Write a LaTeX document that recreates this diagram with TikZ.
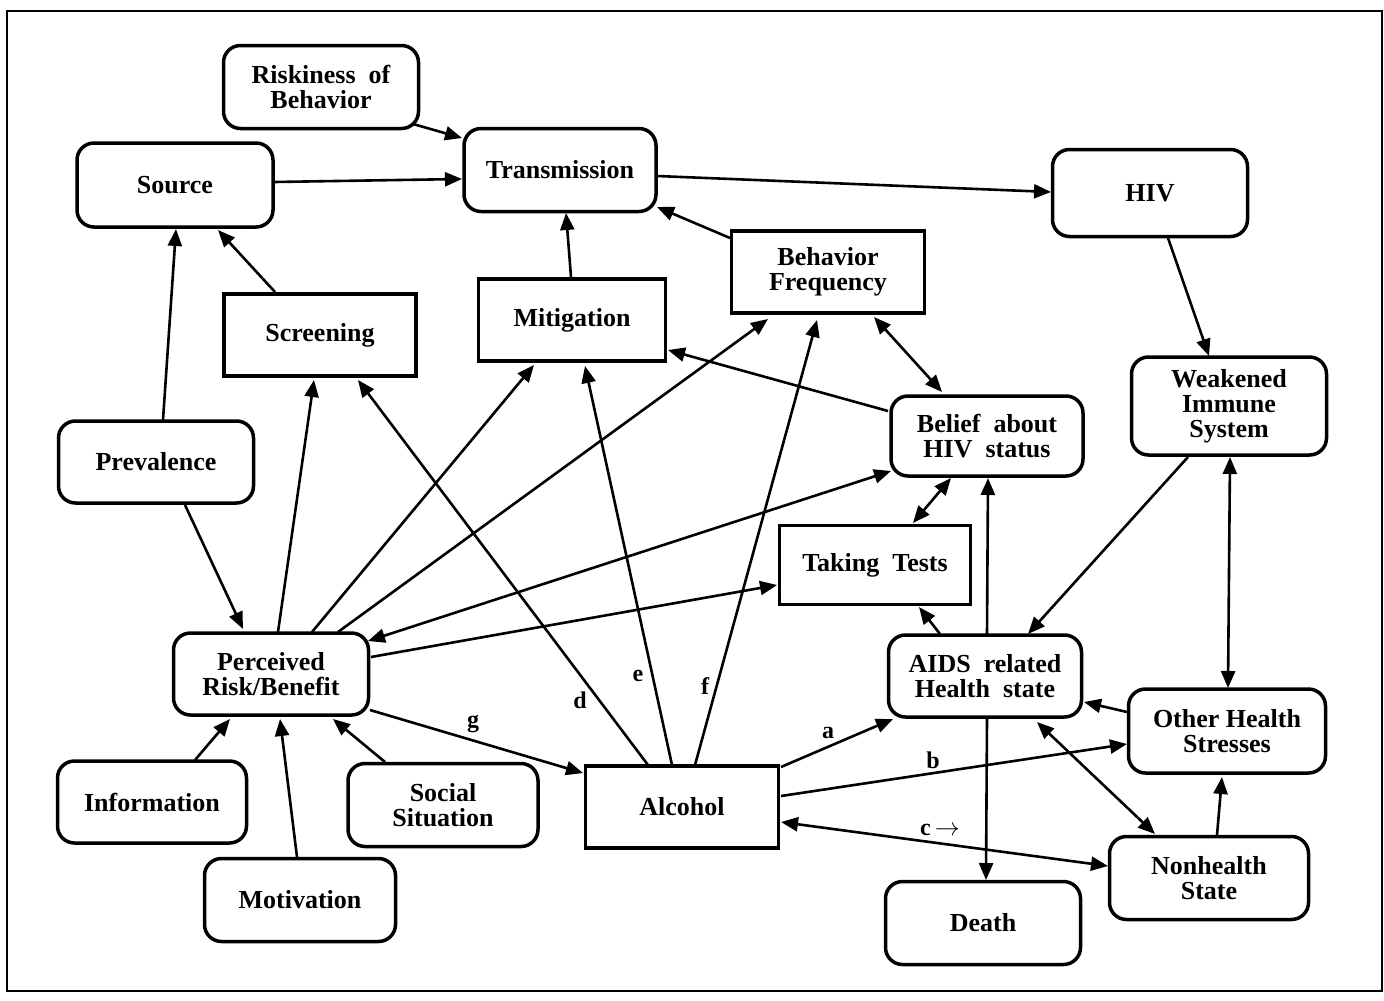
\documentclass[tikz,border=0pt]{standalone}
\usepackage{fontspec}
\setmainfont{Liberation Serif}
\usetikzlibrary{arrows.meta}
\begin{document}
\begin{tikzpicture}[x=1pt,y=-1pt,
  rbox/.style={draw, line width=3.5pt, rounded corners=17pt, align=center,
    font=\bfseries\fontsize{26}{25}\selectfont, inner sep=0pt},
  sbox/.style={draw, line width=3.5pt, align=center,
    font=\bfseries\fontsize{26}{25}\selectfont, inner sep=0pt},
  lbl/.style={font=\bfseries\fontsize{24}{24}\selectfont, inner sep=0pt},
  conn/.style={line width=2.6pt, -{Triangle[length=17pt,width=14pt]}},
  biconn/.style={line width=2.6pt, {Triangle[length=17pt,width=14pt]}-{Triangle[length=17pt,width=14pt]}}
]
\useasboundingbox (0,0) rectangle (1384,1001);
\draw[line width=2pt] (7,11) rectangle (1382,991);

% nodes
\node[rbox, minimum width=195pt, minimum height=83pt] (risk) at (321,87) {Riskiness\ \ of\\Behavior};
\node[rbox, minimum width=196pt, minimum height=84pt] (source) at (175,185) {Source};
\node[rbox, minimum width=192pt, minimum height=83pt] (trans) at (560,170) {Transmission};
\node[rbox, minimum width=195pt, minimum height=87pt] (hiv) at (1150,193) {HIV};
\node[sbox, minimum width=192pt, minimum height=82pt] (screen) at (320,335) {Screening};
\node[sbox, minimum width=187pt, minimum height=82pt] (mitig) at (572,320) {Mitigation};
\node[sbox, minimum width=193pt, minimum height=82pt] (bfreq) at (828,272) {Behavior\\Frequency};
\node[rbox, minimum width=195pt, minimum height=98pt] (weak) at (1229,406) {Weakened\\Immune\\System};
\node[rbox, minimum width=192pt, minimum height=80pt] (belief) at (987,436) {Belief\ \ about\\HIV\ \ status};
\node[rbox, minimum width=195pt, minimum height=82pt] (prev) at (156,462) {Prevalence};
\node[sbox, minimum width=191pt, minimum height=79pt] (tests) at (875,565) {Taking\ \ Tests};
\node[rbox, minimum width=195pt, minimum height=82pt] (perc) at (271,674) {Perceived\\Risk/Benefit};
\node[rbox, minimum width=193pt, minimum height=82pt] (aids) at (985,676) {AIDS\ \ related\\Health\ \ state};
\node[rbox, minimum width=197pt, minimum height=84pt] (other) at (1227,731) {Other Health\\Stresses};
\node[rbox, minimum width=189pt, minimum height=82pt] (info) at (152,802) {Information};
\node[rbox, minimum width=190pt, minimum height=83pt] (social) at (443,805) {Social\\Situation};
\node[sbox, minimum width=193pt, minimum height=82pt] (alcohol) at (682,807) {Alcohol};
\node[rbox, minimum width=191pt, minimum height=83pt] (motiv) at (300,900) {Motivation};
\node[rbox, minimum width=199pt, minimum height=83pt] (nonh) at (1209,878) {Nonhealth\\State};
\node[rbox, minimum width=195pt, minimum height=83pt] (death) at (983,923) {Death};

% connectors
\draw[conn] ([shift={(92,37)}]risk.center) -- ([shift={(-98,-32)}]trans.center);
\draw[conn] ([shift={(99,-3)}]source.center) -- ([shift={(-98,9)}]trans.center);
\draw[conn] ([shift={(97,6)}]trans.center) -- ([shift={(-99,-1)}]hiv.center);
\draw[conn] ([shift={(-98,-34)}]bfreq.center) -- ([shift={(97,37)}]trans.center);
\draw[conn] ([shift={(-1,-43)}]mitig.center) -- ([shift={(6,43)}]trans.center);
\draw[conn] ([shift={(-45,-43)}]screen.center) -- ([shift={(43,45)}]source.center);
\draw[conn] ([shift={(7,-42)}]prev.center) -- ([shift={(1,44)}]source.center);
\draw[conn] ([shift={(18,45)}]hiv.center) -- ([shift={(-20,-50)}]weak.center);
\draw[biconn] ([shift={(1,51)}]weak.center) -- ([shift={(1,-43)}]other.center);
\draw[conn] ([shift={(-41,51)}]weak.center) -- ([shift={(43,-42)}]aids.center);
\draw[biconn] ([shift={(46,45)}]bfreq.center) -- ([shift={(-45,-44)}]belief.center);
\draw[conn] ([shift={(-99,-25)}]belief.center) -- ([shift={(96,30)}]mitig.center);
\draw[biconn] ([shift={(-36,42)}]belief.center) -- ([shift={(38,-42)}]tests.center);
\draw[conn] ([shift={(2,-42)}]aids.center) -- ([shift={(1,42)}]belief.center);
\draw[conn] ([shift={(-45,-42)}]aids.center) -- ([shift={(44,42)}]tests.center);
\draw[conn] ([shift={(2,43)}]aids.center) -- ([shift={(3,-43)}]death.center);
\draw[conn] ([shift={(-100,-19)}]other.center) -- ([shift={(99,26)}]aids.center);
\draw[biconn] ([shift={(52,46)}]aids.center) -- ([shift={(-54,-44)}]nonh.center);
\draw[conn] ([shift={(8,-43)}]nonh.center) -- ([shift={(-5,46)}]other.center);
\draw[conn] ([shift={(99,-40)}]alcohol.center) -- ([shift={(-92,43)}]aids.center);
\draw[conn] ([shift={(99,-11)}]alcohol.center) -- ([shift={(-100,13)}]other.center);
\draw[biconn] ([shift={(99,15)}]alcohol.center) -- ([shift={(-101,-12)}]nonh.center);
\draw[conn] ([shift={(-34,-42)}]alcohol.center) -- ([shift={(38,45)}]screen.center);
\draw[conn] ([shift={(-10,-42)}]alcohol.center) -- ([shift={(13,46)}]mitig.center);
\draw[conn] ([shift={(13,-42)}]alcohol.center) -- ([shift={(-11,48)}]bfreq.center);
\draw[conn] ([shift={(99,36)}]perc.center) -- ([shift={(-99,-34)}]alcohol.center);
\draw[conn] ([shift={(7,-42)}]perc.center) -- ([shift={(-6,45)}]screen.center);
\draw[conn] ([shift={(41,-42)}]perc.center) -- ([shift={(-38,45)}]mitig.center);
\draw[conn] ([shift={(67,-42)}]perc.center) -- ([shift={(-60,47)}]bfreq.center);
\draw[biconn] ([shift={(97,-33)}]perc.center) -- ([shift={(-96,35)}]belief.center);
\draw[conn] ([shift={(100,-17)}]perc.center) -- ([shift={(-98,20)}]tests.center);
\draw[conn] ([shift={(29,43)}]prev.center) -- ([shift={(-28,-45)}]perc.center);
\draw[conn] ([shift={(43,-42)}]info.center) -- ([shift={(-41,45)}]perc.center);
\draw[conn] ([shift={(-3,-43)}]motiv.center) -- ([shift={(9,45)}]perc.center);
\draw[conn] ([shift={(-58,-43)}]social.center) -- ([shift={(62,45)}]perc.center);

% labels
\node[lbl] (la) at (828,733) {a};
\node[lbl] (lb) at (933,760) {b};
\node[lbl] (lc) at (940,830) {c\,$\rightarrow$};
\node[lbl] (ld) at (580,700) {d};
\node[lbl] (le) at (638,676) {e};
\node[lbl] (lf) at (705,686) {f};
\node[lbl] (lg) at (473,724) {g};
\end{tikzpicture}
\end{document}
